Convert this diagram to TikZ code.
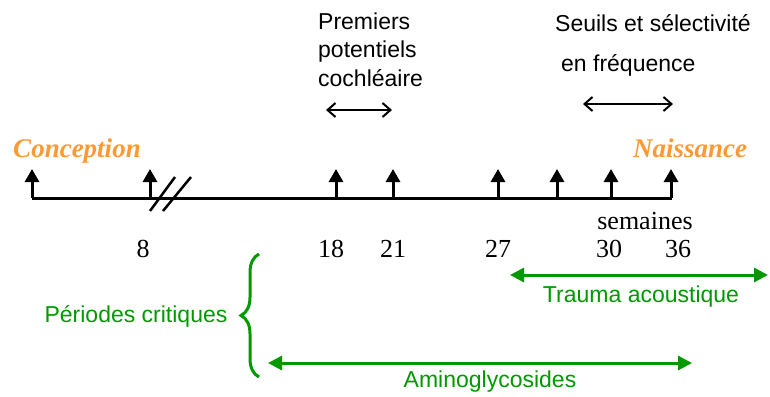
\documentclass[tikz,border=0pt]{standalone}
\usepackage{fontspec}
\setmainfont{Liberation Serif}
\newfontfamily\comic{Liberation Sans}
\usetikzlibrary{arrows.meta,decorations.pathreplacing,positioning}
\definecolor{naiss}{RGB}{255,153,51}
\definecolor{crit}{RGB}{0,153,0}

\begin{document}
\begin{tikzpicture}[x=1pt, y=-1pt, inner sep=0pt,
  week/.style = {font=\fontsize{26}{26}\selectfont, anchor=base},
  event/.style = {font=\fontsize{27}{27}\selectfont\bfseries\itshape, text=naiss, anchor=base},
  note/.style = {font=\comic\fontsize{23}{28.5}\selectfont, align=left, anchor=base west},
  period/.style = {font=\comic\fontsize{23}{28}\selectfont, text=crit, anchor=base},
  weekmark/.style = {line width=3pt, -{Triangle[length=13pt,width=14pt]}},
  spanarrow/.style = {line width=2pt, {Straight Barb[length=8pt,width=14pt]}-{Straight Barb[length=8pt,width=14pt]}},
  exposure/.style = {line width=3pt, draw=crit, {Triangle[length=14pt,width=14pt]}-{Triangle[length=14pt,width=14pt]}}]
  \useasboundingbox (0,0) rectangle (770,396);

  % time axis
  \coordinate (start) at (32,198);
  \coordinate (end) at (672,198);
  \draw[line width=3pt] (start) -- (end);
  \foreach \x/\n in {32/0, 150/8, 336/18, 393/21, 498/27, 557/28, 611/30, 671/36} {
    \coordinate (b\n) at (\x,198);
    \coordinate (h\n) at (\x,169);
    \draw[weekmark] (b\n) -- (h\n);
  }
  % break
  \coordinate (c1) at (150,211);
  \coordinate (c2) at (175,177);
  \coordinate (c3) at (163,211);
  \coordinate (c4) at (191,177);
  \draw[line width=2.5pt] (c1) -- (c2);
  \draw[line width=2.5pt] (c3) -- (c4);

  % weeks
  \node[week] (w8) at (143,257) {8};
  \node[week] (w18) at (331,257) {18};
  \node[week] (w21) at (393,257) {21};
  \node[week] (w27) at (498,257) {27};
  \node[week] (w30) at (609,257) {30};
  \node[week] (w36) at (678,257) {36};
  \node[week] (sem) at (645,229) {semaines};

  \node[event] (conc) at (77,157) {Conception};
  \node[event] (naiss) at (690,157) {Naissance};

  % maturation
  \node[note] (prem) at (318,86) {Premiers\\potentiels\\cochléaire};
  \node[note] (seuil) at (555,32) {Seuils et sélectivité};
  \node[note] (freq) at (561,71) {en fréquence};
  \coordinate (p1) at (326,110);
  \coordinate (p2) at (392,110);
  \coordinate (s1) at (583,104);
  \coordinate (s2) at (673,104);
  \draw[spanarrow] (p1) -- (p2);
  \draw[spanarrow] (s1) -- (s2);

  % periodes critiques
  \coordinate (t1) at (510,275);
  \coordinate (t2) at (768,275);
  \draw[exposure] (t1) -- (t2);
  \node[period] (trauma) at (641,302) {Trauma acoustique};
  \coordinate (a1) at (268,363);
  \coordinate (a2) at (692,363);
  \draw[exposure] (a1) -- (a2);
  \node[period] (amino) at (490,387) {Aminoglycosides};
  \coordinate (br1) at (259,377);
  \coordinate (br2) at (259,254);
  \draw[crit, line width=3pt, decorate, decoration={brace, amplitude=18pt}] (br1) -- (br2);
  \node[period] (crit) at (136,322) {Périodes critiques};
\end{tikzpicture}
\end{document}
